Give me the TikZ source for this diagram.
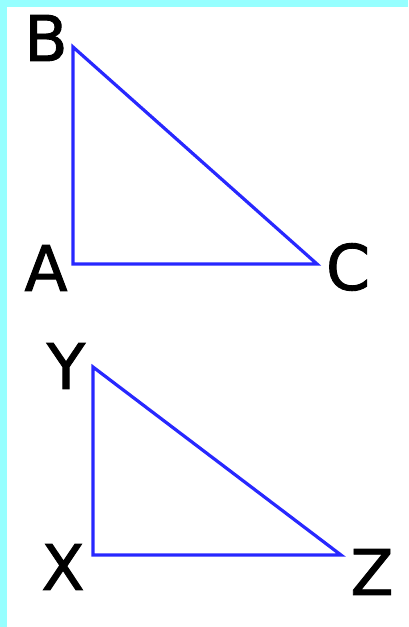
\documentclass[tikz,border=0pt]{standalone}
\usepackage{fontspec}
\setmainfont{DejaVu Sans}
\newfontfamily\labelfont[FakeBold=1.4]{DejaVu Sans}
\usetikzlibrary{positioning}
\definecolor{frameCyan}{RGB}{150,255,255}
\definecolor{sideBlue}{RGB}{40,40,255}

\begin{document}
\begin{tikzpicture}[
    x=1pt, y=-1pt,
    side/.style={draw=sideBlue, line width=3.2pt, line join=miter},
    vlabel/.style={font=\fontsize{63}{68}\labelfont, inner sep=0pt, text=black},
]
\useasboundingbox (0,0) rectangle (408,627);
\fill[white] (0,0) rectangle (408,627);
\fill[frameCyan] (0,0) rectangle (408,7);
\fill[frameCyan] (0,0) rectangle (7,627);
% upper triangle
\coordinate (B) at (73,47);
\coordinate (A) at (73,264);
\coordinate (C) at (317,264);
\draw[side] (A) -- (B) -- (C) -- cycle;
\node[vlabel] (labB) at (46,38) {B};
\node[vlabel] (labA) at (46,268) {A};
\node[vlabel] (labC) at (348,267) {C};
% lower triangle
\coordinate (Y) at (93,367);
\coordinate (X) at (93,555);
\coordinate (Z) at (341,555);
\draw[side] (X) -- (Y) -- (Z) -- cycle;
\node[vlabel] (labY) at (66,366) {Y};
\node[vlabel] (labX) at (63,567) {X};
\node[vlabel] (labZ) at (372,572) {Z};
\end{tikzpicture}
\end{document}
